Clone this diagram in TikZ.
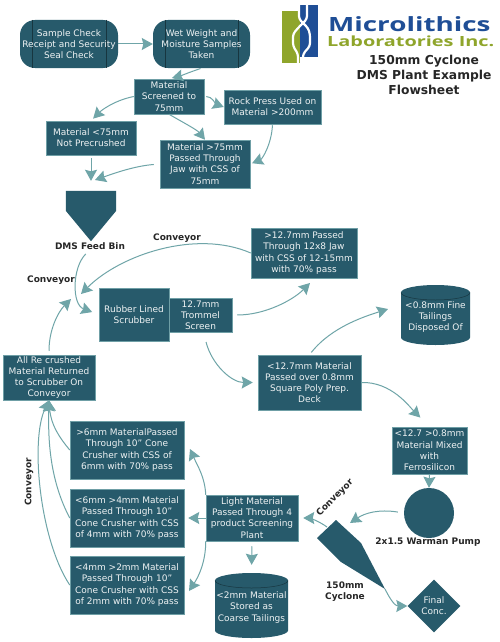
\documentclass[tikz,border=0pt]{standalone}
\usepackage{fontspec}
\setmainfont{DejaVu Sans}
\newfontfamily\logofont{Open Sans}
\usetikzlibrary{arrows.meta,shapes.geometric,calc}
\definecolor{boxfill}{HTML}{275A6B}
\definecolor{boxedge}{HTML}{6F9FA6}
\definecolor{flowc}{HTML}{6FA5A8}
\definecolor{logoblue}{HTML}{1F4E96}
\definecolor{logogreen}{HTML}{8FA52B}
\tikzset{
 x=1pt,y=-1pt,
 every node/.style={font=\fontsize{9}{11.2}\selectfont},
 boxn/.style={fill=boxfill,draw=boxedge,line width=.5pt,text=white!92!boxfill,align=center,inner sep=0pt},
 labeln/.style={text=black!85,font=\fontsize{9}{11}\selectfont\bfseries,align=center,inner sep=0pt},
 flow/.style={draw=flowc,line width=1pt,-{Stealth[length=11pt,width=12pt,inset=1.5pt]}},
}
\newcommand{\bx}[6]{\node[boxn,minimum width=#4-#2,minimum height=#5-#3] (#1) at ({(#2+#4)/2},{(#3+#5)/2}) {#6};}
\newcommand{\cyl}[6]{%
 \node[inner sep=0pt,minimum width=#4-#2,minimum height=#5-#3] (#1) at ({(#2+#4)/2},{(#3+#5)/2}) {};
 \fill[boxfill] (#2,#3+7.5) arc[x radius={(#4-#2)/2*1pt},y radius=7.5pt,start angle=180,end angle=0] -- (#4,#5-7.5) arc[x radius={(#4-#2)/2*1pt},y radius=7.5pt,start angle=0,end angle=-180] -- cycle;
 \draw[black!40!boxfill,line width=.5pt] (#2,#3+7.5) arc[x radius={(#4-#2)/2*1pt},y radius=7.5pt,start angle=180,end angle=360];
 \node[text=white!92!boxfill,align=center,inner sep=0pt] at ({(#2+#4)/2},{(#3+#5)/2+2}) {#6};}
\newcommand{\stad}[6]{%
 \node[inner sep=0pt,minimum width=#4-#2,minimum height=#5-#3] (#1) at ({(#2+#4)/2},{(#3+#5)/2}) {};
 \fill[boxfill,rounded corners=15pt] (#2,#3) rectangle (#4,#5);
 \draw[black!40!boxfill,line width=.5pt] (#2+12,#3) -- (#2+12,#5) (#4-12,#3) -- (#4-12,#5);
 \node[text=white!92!boxfill,align=center,inner sep=0pt] at (#1.center) {#6};}
\begin{document}
\begin{tikzpicture}
\useasboundingbox (0,0) rectangle (500,642);
\fill[white] (0,0) rectangle (500,642);
% logo
\fill[logogreen] (282,11) rectangle (300,63);
\fill[logoblue] (300,5) rectangle (318,57);
\draw[white,line width=2.2pt,rounded corners=3pt] (299,5) -- (299,19) -- (308,28) -- (310,34) -- (310,46) -- (303,54) -- (303,63)
 (307,5) -- (307,19) -- (298,28) -- (293,34) -- (293,46) -- (298,54) -- (298,63);
\node[inner sep=0pt,anchor=base west,text=logoblue,font=\logofont\bfseries\fontsize{19.6}{20}\selectfont] (logoa) at (328,32) {\scalebox{1.42}[1]{Microlithics}};
\node[inner sep=0pt,anchor=base west,text=logogreen,font=\logofont\bfseries\fontsize{14}{15}\selectfont] (logob) at (327,47) {\scalebox{1.42}[1]{Laboratories Inc.}};
\node[labeln,font=\fontsize{12.3}{15.2}\selectfont\bfseries] (title) at (424,75) {150mm Cyclone\\DMS Plant Example\\Flowsheet};
% boxes
\stad{sample}{20}{20}{118}{68}{Sample Check\\Receipt and Security\\Seal Check}
\stad{wet}{153}{20}{250}{68}{Wet Weight and\\Moisture Samples\\Taken}
\bx{screened}{134}{79}{204}{114}{Material\\Screened to\\75mm}
\bx{rock}{224}{90}{321}{124}{Rock Press Used on\\Material >200mm}
\bx{less}{46}{121}{136}{155}{Material <75mm\\Not Precrushed}
\bx{pass}{160}{140}{250}{188}{Material >75mm\\Passed Through\\Jaw with CSS of\\75mm}
\node[inner sep=0pt,minimum width=50pt,minimum height=50pt] (bin) at (91,216) {};
\fill[boxfill] (bin.north west) -- (bin.north east) -- ($(bin.north east)+(0,20)$) -- (bin.south) -- ($(bin.north west)+(0,20)$) -- cycle;
\node[labeln] (binlabel) at (90,246) {DMS Feed Bin};
\node[labeln] (conva) at (177,238) {Conveyor};
\node[labeln] (convb) at (51,280) {Conveyor};
\bx{scrub}{99}{288}{169}{341}{Rubber Lined\\Scrubber}
\bx{tromm}{169}{298}{232}{332}{12.7mm\\Trommel\\Screen}
\bx{jaw}{251}{228}{357}{278}{>12.7mm Passed\\Through 12x8 Jaw\\with CSS of 12-15mm\\with 70\% pass}
\cyl{fine}{401}{285}{470}{345}{<0.8mm Fine\\Tailings\\Disposed Of}
\bx{poly}{258}{355}{361}{410}{<12.7mm Material\\Passed over 0.8mm\\Square Poly Prep.\\Deck}
\bx{mixed}{392}{427}{467}{474}{<12.7 >0.8mm\\Material Mixed\\with\\Ferrosilicon}
\node[circle,fill=boxfill,minimum size=50pt,inner sep=0pt] (pump) at (429,513) {};
\node[labeln] (pumplabel) at (428,542) {2x1.5 Warman Pump};
\fill[boxfill] (336,520) -- (317,538) -- (341,562) -- (385,589) -- (361,543) -- cycle;
\node[labeln] (cyclabel) at (345,592) {150mm\\Cyclone};
\node[diamond,fill=boxfill,minimum width=53pt,minimum height=53pt,inner sep=0pt] (final) at (434,606) {};
\node[text=white!92!boxfill,align=center,inner sep=0pt] at (final.center) {Final\\Conc.};
\node[labeln,rotate=45] (convc) at (335,498) {Conveyor};
\bx{light}{206}{495}{298}{541}{Light Material\\Passed Through 4\\product Screening\\Plant}
\cyl{coarse}{215}{573}{288}{638}{<2mm Material\\Stored as\\Coarse Tailings}
\bx{six}{70}{421}{184}{479}{>6mm MaterialPassed\\Through 10" Cone\\Crusher with CSS of\\6mm with 70\% pass}
\bx{four}{70}{489}{184}{547}{<6mm >4mm Material\\Passed Through 10"\\Cone Crusher with CSS\\of 4mm with 70\% pass}
\bx{two}{70}{556}{184}{614}{<4mm >2mm Material\\Passed Through 10"\\Cone Crusher with CSS\\of 2mm with 70\% pass}
\bx{recr}{3}{355}{95}{400}{All Re crushed\\Material Returned\\to Scrubber On\\Conveyor}
\node[labeln,rotate=90] (convd) at (29,482) {Conveyor};
% free connector ends
\coordinate (binin) at (95,180);
\coordinate (scrubin) at (81,294);
\coordinate (recrout) at (71,299);
\coordinate (jawin) at (310,283);
\coordinate (cycin) at (350,523);
\coordinate (cycout) at (327,527);
\coordinate (cyctip) at (385,589);
\coordinate (sixin) at (190,449);
\coordinate (twoin) at (189,591);
\coordinate (trout) at (206,342);
\coordinate (finein) at (388,309);
% connectors
\draw[flow] (sample.east) -- (wet.west);
\draw[flow,shorten <=1pt,shorten >=3pt] (wet.south) .. controls +(-12,4) and +(12,-3) .. (screened.north);
\draw[flow,shorten >=3pt] (screened.west) .. controls +(-20,4) and +(10,-10) .. (less.north);
\draw[flow,shorten <=2pt] (screened.east) .. controls +(8,0) and +(-8,-3) .. (rock.west);
\draw[flow] (screened.south) .. controls +(12,7) and +(-8,-10) .. (pass.north);
\draw[flow,shorten <=1pt,shorten >=2pt] (rock.south) .. controls +(-1,20) and +(12,-5) .. (pass.east);
\draw[flow,shorten <=3pt,shorten >=10pt] (less.south) -- (bin.north);
\draw[flow,shorten <=6pt] (pass.west) .. controls +(-25,2) and +(20,-7) .. (binin);
\draw[flow,shorten <=6pt,shorten >=7pt] (binlabel.south) .. controls +(-18,18) and +(-27,-10) .. (scrub.west);
\draw[flow] (jaw.west) .. controls +(-55,-24) and +(39,-39) .. (scrubin);
\draw[flow,shorten <=4pt] (recr.north) .. controls +(0,-25) and +(-13,13) .. (recrout);
\draw[flow,shorten <=5pt] (tromm.east) .. controls +(33,0) and +(-17,17) .. (jawin);
\draw[flow,shorten >=5pt] (trout) .. controls +(6,23) and +(-26,0) .. (poly.west);
\draw[flow,shorten <=3pt] (poly.north) .. controls +(22,-28) and +(-22,7) .. (finein);
\draw[flow,shorten >=13pt] (poly.east) .. controls +(30,-1) and +(-20,-20) .. (mixed.north);
\draw[flow] (mixed.south) -- (pump.north);
\draw[flow,shorten <=6pt] (pump.west) .. controls +(-25,-4) and +(15,-10) .. (cycin);
\draw[flow,shorten >=5pt] (cycout) .. controls +(-8,-6) and +(10,0) .. (light.east);
\draw[flow] (cyctip) .. controls +(6,12) and +(-12,0) .. (final.west);
\draw[flow] (light.north west) .. controls +(-1,-18) and +(8,18) .. (sixin);
\draw[flow,shorten >=4pt] (light.west) -- (four.east);
\draw[flow] (light.south west) .. controls +(0,20) and +(10,-15) .. (twoin);
\draw[flow,shorten <=5pt,shorten >=8pt] (light.south) -- (coarse.north);
\draw[flow] (six.west) .. controls +(-10,-12) and +(2,25) .. (recr.south);
\draw[flow] (four.west) .. controls +(-20,-38) and +(-1,40) .. (recr.south);
\draw[flow] (two.west) .. controls +(-30,-45) and +(-19,40) .. (recr.south);
\end{tikzpicture}
\end{document}
